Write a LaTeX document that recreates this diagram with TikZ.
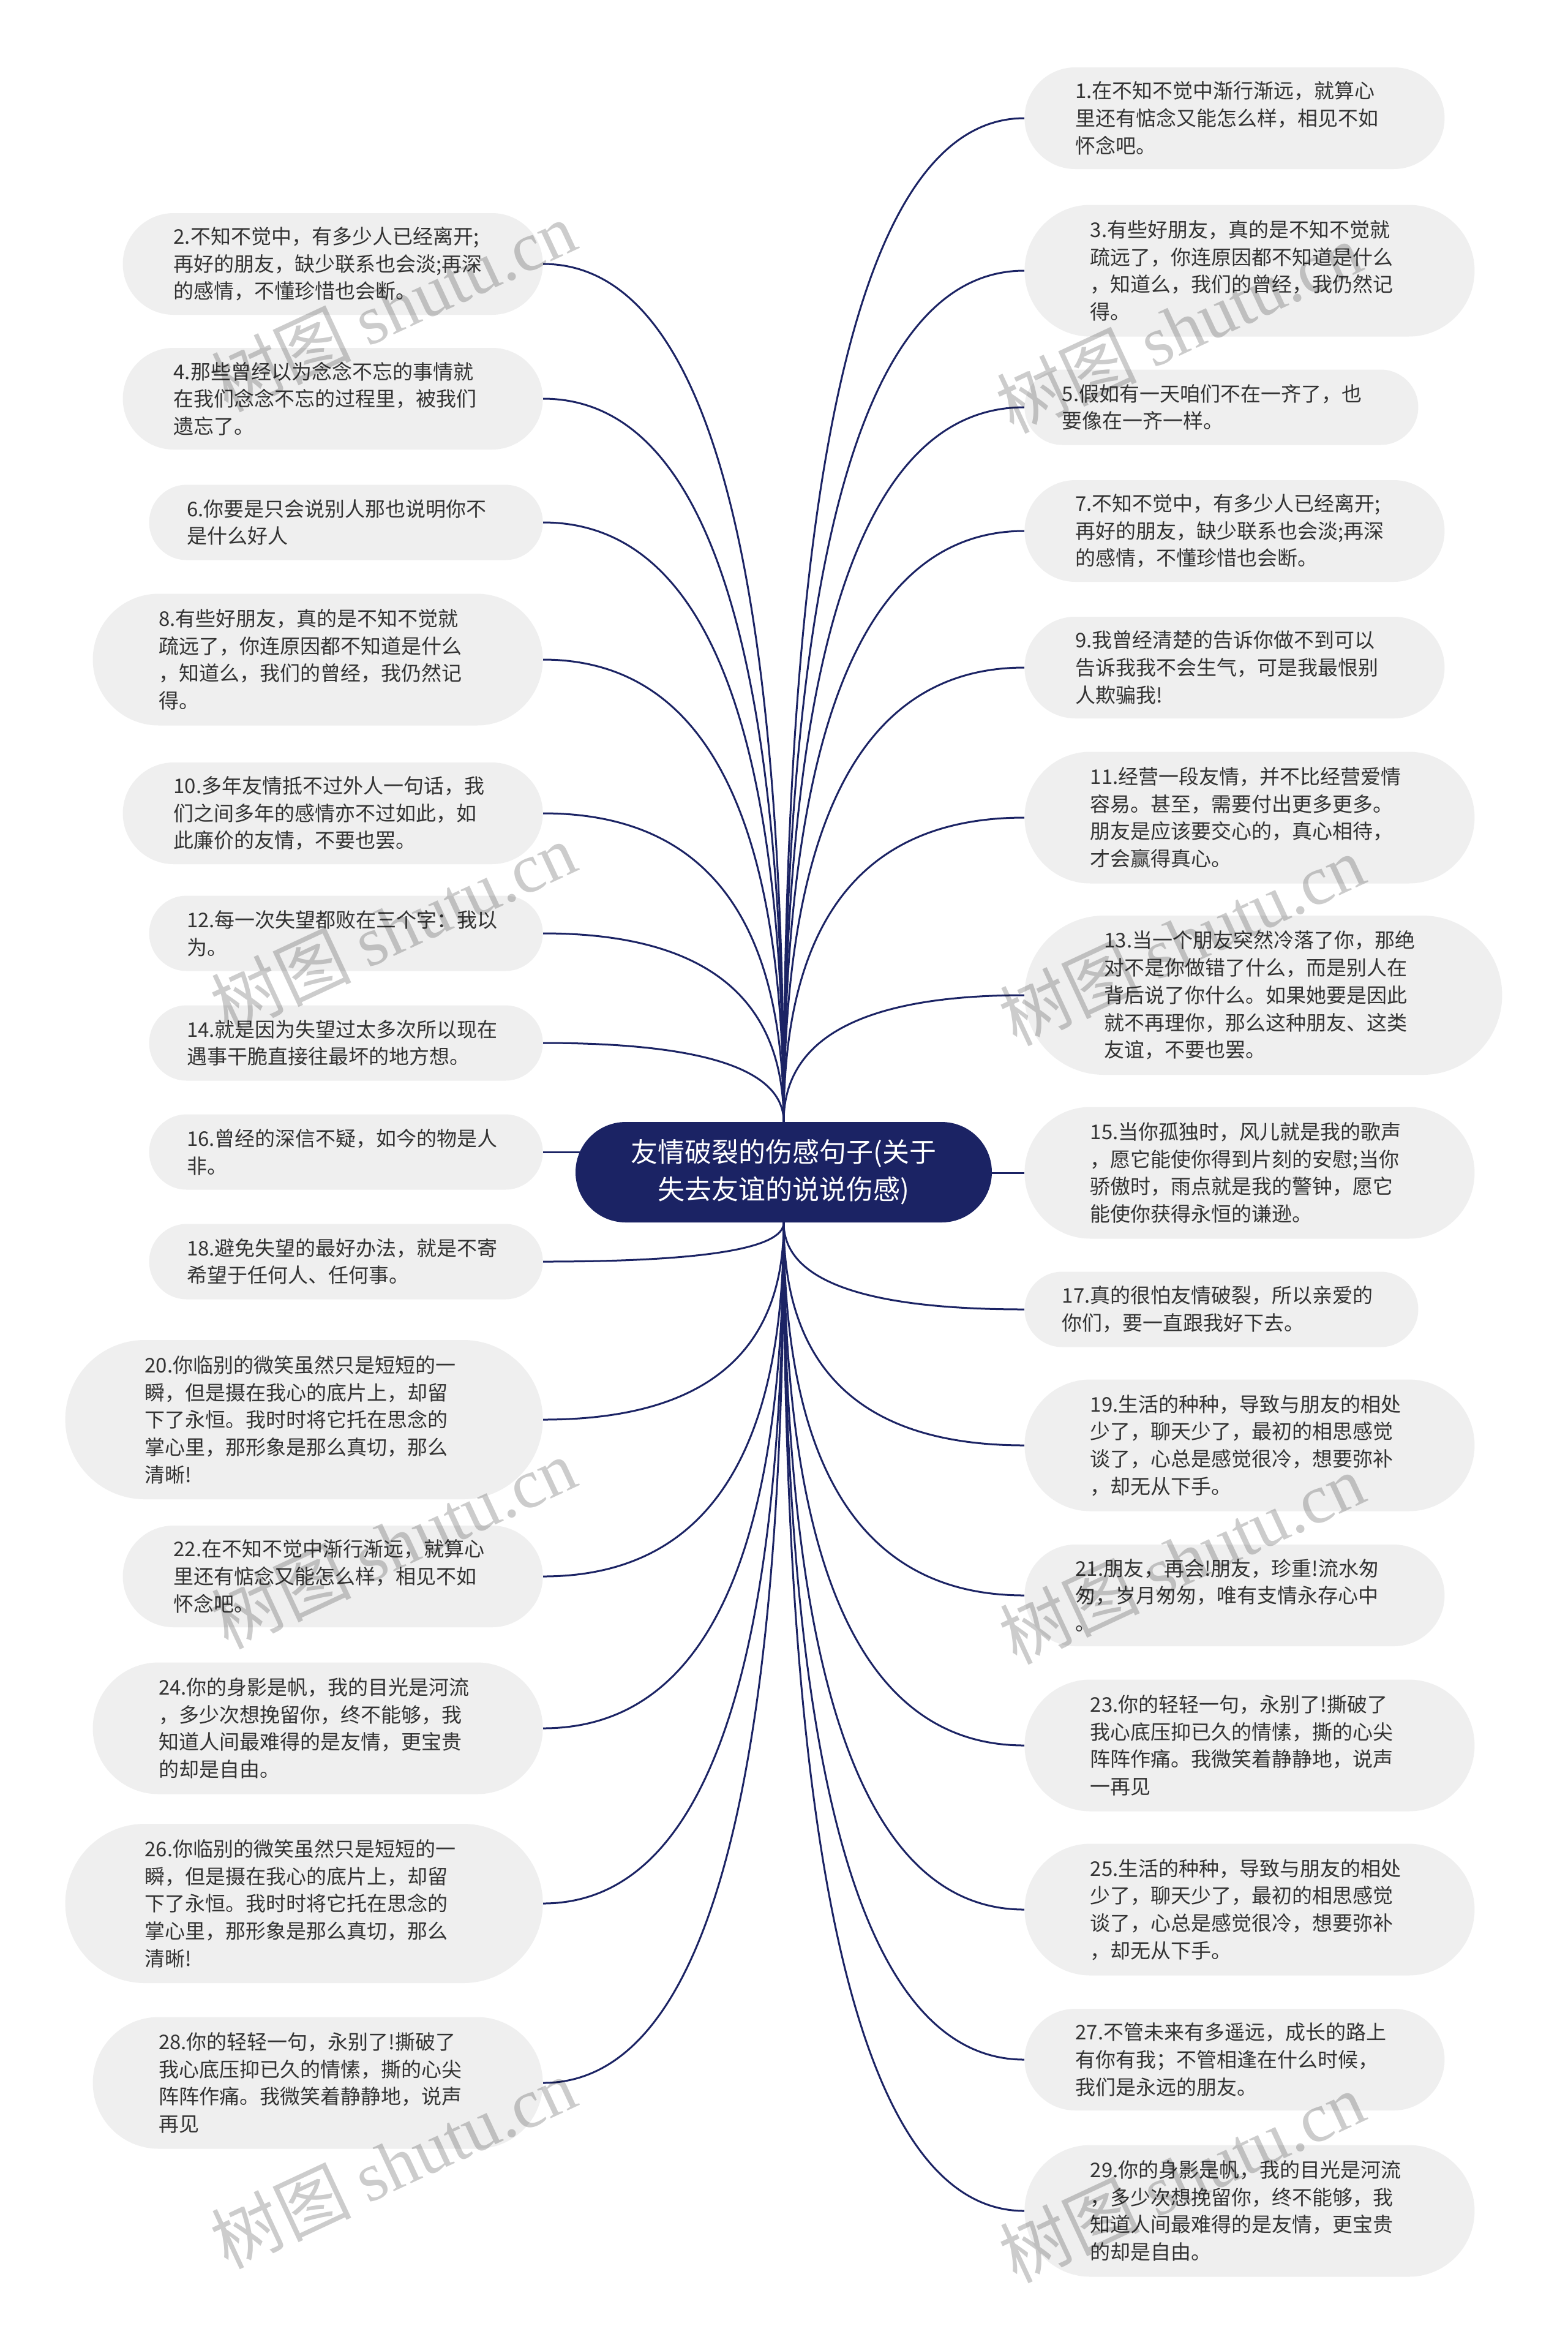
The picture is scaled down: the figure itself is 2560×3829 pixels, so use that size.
\documentclass[tikz,border=0pt]{standalone}
\usepackage{fontspec}
\setmainfont{Noto Sans CJK SC}
\newfontfamily\wmlatin{Liberation Serif}
\usetikzlibrary{calc}
\definecolor{navy}{RGB}{27,35,100}
\definecolor{leaf}{RGB}{239,239,239}
\definecolor{ink}{RGB}{51,51,51}
\pgfdeclarelayer{bg}
\pgfsetlayers{bg,main}
\begin{document}
\begin{tikzpicture}[x=0.5pt,y=-0.5pt,
  leafbase/.style={rectangle, fill=leaf, text=ink, text width=260pt, align=left,
    inner ysep=0pt, font=\fontsize{16.5pt}{22.35pt}\selectfont},
  lines2/.style={leafbase, minimum height=61.5pt, inner xsep=30.75pt, rounded corners=30.75pt},
  lines3/.style={leafbase, minimum height=83pt, inner xsep=41.5pt, rounded corners=41.5pt},
  lines4/.style={leafbase, minimum height=107.5pt, inner xsep=53.75pt, rounded corners=53.75pt},
  lines5/.style={leafbase, minimum height=130pt, inner xsep=65pt, rounded corners=65pt},
  rootnode/.style={rectangle, fill=navy, text=white, text width=258pt, align=center,
    inner xsep=41pt, inner ysep=0pt, minimum height=82pt, rounded corners=41pt,
    font=\fontsize{22pt}{30.5pt}\selectfont},
  edge/.style={draw=navy, line width=1.5pt},
  mmcurve/.style={to path={.. controls ($(\tikztostart)!0.667!(\tikztostart |- \tikztotarget)$) and ($(\tikztotarget)!0.667!(\tikztostart |- \tikztotarget)$) .. (\tikztotarget)}},
  wm/.style={text=black, opacity=0.2, rotate=25, font=\fontsize{57pt}{60pt}\selectfont}
]
\useasboundingbox (0,0) rectangle (2560,3829);

\node[rootnode] (root) at (1280,1914) {友情破裂的伤感句子(关于\\失去友谊的说说伤感)};
\coordinate (top) at (root.north);
\coordinate (bot) at (root.south);

% left column
\node[lines3, anchor=east] (L2) at (887,431) {2.不知不觉中，有多少人已经离开;\\再好的朋友，缺少联系也会淡;再深\\的感情，不懂珍惜也会断。};
\node[lines3, anchor=east] (L4) at (887,651) {4.那些曾经以为念念不忘的事情就\\在我们念念不忘的过程里，被我们\\遗忘了。};
\node[lines2, anchor=east] (L6) at (887,853) {6.你要是只会说别人那也说明你不\\是什么好人};
\node[lines4, anchor=east] (L8) at (887,1077) {8.有些好朋友，真的是不知不觉就\\疏远了，你连原因都不知道是什么\\，知道么，我们的曾经，我仍然记\\得。};
\node[lines3, anchor=east] (L10) at (887,1328) {10.多年友情抵不过外人一句话，我\\们之间多年的感情亦不过如此，如\\此廉价的友情，不要也罢。};
\node[lines2, anchor=east] (L12) at (887,1524) {12.每一次失望都败在三个字：我以\\为。};
\node[lines2, anchor=east] (L14) at (887,1703) {14.就是因为失望过太多次所以现在\\遇事干脆直接往最坏的地方想。};
\node[lines2, anchor=east] (L16) at (887,1881) {16.曾经的深信不疑，如今的物是人\\非。};
\node[lines2, anchor=east] (L18) at (887,2060) {18.避免失望的最好办法，就是不寄\\希望于任何人、任何事。};
\node[lines5, anchor=east] (L20) at (887,2318) {20.你临别的微笑虽然只是短短的一\\瞬，但是摄在我心的底片上，却留\\下了永恒。我时时将它托在思念的\\掌心里，那形象是那么真切，那么\\清晰!};
\node[lines3, anchor=east] (L22) at (887,2574) {22.在不知不觉中渐行渐远，就算心\\里还有惦念又能怎么样，相见不如\\怀念吧。};
\node[lines4, anchor=east] (L24) at (887,2822) {24.你的身影是帆，我的目光是河流\\，多少次想挽留你，终不能够，我\\知道人间最难得的是友情，更宝贵\\的却是自由。};
\node[lines5, anchor=east] (L26) at (887,3108) {26.你临别的微笑虽然只是短短的一\\瞬，但是摄在我心的底片上，却留\\下了永恒。我时时将它托在思念的\\掌心里，那形象是那么真切，那么\\清晰!};
\node[lines4, anchor=east] (L28) at (887,3401) {28.你的轻轻一句，永别了!撕破了\\我心底压抑已久的情愫，撕的心尖\\阵阵作痛。我微笑着静静地，说声\\再见};

% right column
\node[lines3, anchor=west] (R1) at (1673,193) {1.在不知不觉中渐行渐远，就算心\\里还有惦念又能怎么样，相见不如\\怀念吧。};
\node[lines4, anchor=west] (R3) at (1673,442) {3.有些好朋友，真的是不知不觉就\\疏远了，你连原因都不知道是什么\\，知道么，我们的曾经，我仍然记\\得。};
\node[lines2, anchor=west] (R5) at (1673,665) {5.假如有一天咱们不在一齐了，也\\要像在一齐一样。};
\node[lines3, anchor=west] (R7) at (1673,867) {7.不知不觉中，有多少人已经离开;\\再好的朋友，缺少联系也会淡;再深\\的感情，不懂珍惜也会断。};
\node[lines3, anchor=west] (R9) at (1673,1090) {9.我曾经清楚的告诉你做不到可以\\告诉我我不会生气，可是我最恨别\\人欺骗我!};
\node[lines4, anchor=west] (R11) at (1673,1335) {11.经营一段友情，并不比经营爱情\\容易。甚至，需要付出更多更多。\\朋友是应该要交心的，真心相待，\\才会赢得真心。};
\node[lines5, anchor=west] (R13) at (1673,1625) {13.当一个朋友突然冷落了你，那绝\\对不是你做错了什么，而是别人在\\背后说了你什么。如果她要是因此\\就不再理你，那么这种朋友、这类\\友谊，不要也罢。};
\node[lines4, anchor=west] (R15) at (1673,1915) {15.当你孤独时，风儿就是我的歌声\\，愿它能使你得到片刻的安慰;当你\\骄傲时，雨点就是我的警钟，愿它\\能使你获得永恒的谦逊。};
\node[lines2, anchor=west] (R17) at (1673,2138) {17.真的很怕友情破裂，所以亲爱的\\你们，要一直跟我好下去。};
\node[lines4, anchor=west] (R19) at (1673,2360) {19.生活的种种，导致与朋友的相处\\少了，聊天少了，最初的相思感觉\\谈了，心总是感觉很冷，想要弥补\\，却无从下手。};
\node[lines3, anchor=west] (R21) at (1673,2605) {21.朋友，再会!朋友，珍重!流水匆\\匆，岁月匆匆，唯有支情永存心中\\。};
\node[lines4, anchor=west] (R23) at (1673,2850) {23.你的轻轻一句，永别了!撕破了\\我心底压抑已久的情愫，撕的心尖\\阵阵作痛。我微笑着静静地，说声\\一再见};
\node[lines4, anchor=west] (R25) at (1673,3118) {25.生活的种种，导致与朋友的相处\\少了，聊天少了，最初的相思感觉\\谈了，心总是感觉很冷，想要弥补\\，却无从下手。};
\node[lines3, anchor=west] (R27) at (1673,3363) {27.不管未来有多遥远，成长的路上\\有你有我；不管相逢在什么时候，\\我们是永远的朋友。};
\node[lines4, anchor=west] (R29) at (1673,3610) {29.你的身影是帆，我的目光是河流\\，多少次想挽留你，终不能够，我\\知道人间最难得的是友情，更宝贵\\的却是自由。};

\begin{pgfonlayer}{bg}
\fill[white] (0,0) rectangle (2560,3829);
\foreach \n in {L2,L4,L6,L8,L10,L12,L14} \draw[edge] (top) to[mmcurve] (\n.east);
\foreach \n in {R1,R3,R5,R7,R9,R11,R13} \draw[edge] (top) to[mmcurve] (\n.west);
\foreach \n in {L18,L20,L22,L24,L26,L28} \draw[edge] (bot) to[mmcurve] (\n.east);
\foreach \n in {R17,R19,R21,R23,R25,R27,R29} \draw[edge] (bot) to[mmcurve] (\n.west);
\draw[edge] (L16.east) -- (L16.east -| root.center);
\draw[edge] (R15.west) -- (R15.west -| root.center);
\end{pgfonlayer}

% watermarks
\foreach \wx/\wy/\k in {642/500/a,642/1515/b,642/2520/c,642/3532/d,1925/535/e,1930/1535/f,1930/2545/g,1930/3555/h}
  \node[wm] (wm\k) at (\wx,\wy) {树图 {\wmlatin shutu.cn}};
\end{tikzpicture}
\end{document}
